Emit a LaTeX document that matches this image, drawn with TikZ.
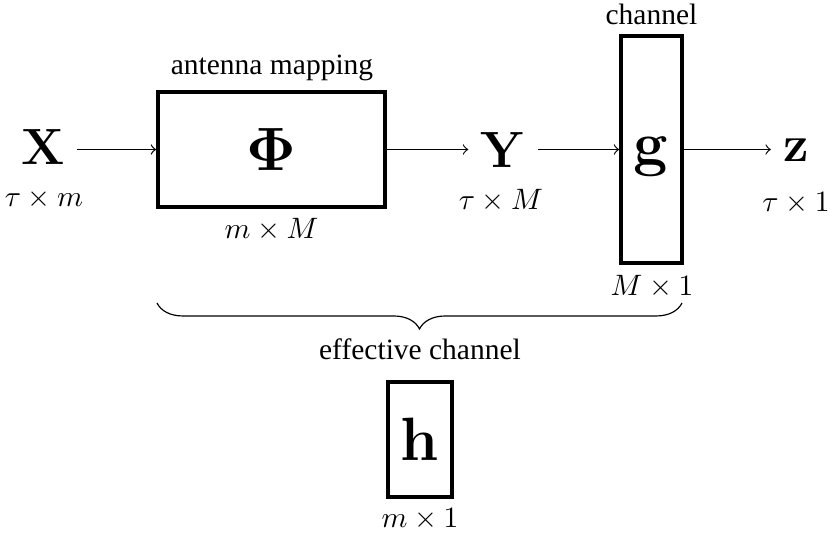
\documentclass[tikz,border=0pt]{standalone}
\usepackage[no-math]{fontspec}
\setmainfont{Liberation Serif}
\usetikzlibrary{decorations.pathreplacing}

\tikzset{
  sym/.style={inner sep=4pt, font=\LARGE},
  blk/.style={draw, line width=1.2pt, inner sep=0pt, font=\huge},
  dim/.style={anchor=base, inner sep=0pt},
  blkname/.style={anchor=base, inner sep=0pt},
  sig/.style={->, line width=0.4pt}
}

\begin{document}
\begin{tikzpicture}[x=0.339pt, y=0.339pt]
    \useasboundingbox (0,0) rectangle (830,535);

    % Khoi anh xa anten va kenh
    \node[blk, minimum width=77pt, minimum height=39pt] (map) at (271.5,385.5) {$\mathbf{\Phi}$};
    \node[blk, minimum width=20.7pt, minimum height=77pt] (chan) at (651.5,385.5) {};
    \node[anchor=base, inner sep=0pt, font=\huge] (g) at (651.5,370) {$\mathbf{g}$};
    \node[blk, minimum width=21.7pt, minimum height=39pt] (h) at (420,95.5) {$\mathbf{h}$};

    % Tin hieu
    \node[sym, anchor=base] (X) at (43,370) {$\mathbf{X}$};
    \node[sym, anchor=base] (Y) at (503,367) {$\mathbf{Y}$};
    \node[sym, anchor=base] (z) at (796,373) {$\mathbf{z}$};

    % Ten khoi
    \node[blkname] (mapname) at (272,460) {antenna mapping};
    \node[blkname] (channame) at (651.5,510) {channel};
    \node[blkname] (hname) at (420,176) {effective channel};

    % Kich thuoc
    \node[dim] (dX) at (44,328) {$\tau\times m$};
    \node[dim] (dY) at (501,325) {$\tau\times M$};
    \node[dim] (dz) at (796,323) {$\tau\times 1$};
    \node[dim] (dmap) at (271.5,297) {$m\times M$};
    \node[dim] (dchan) at (652,240) {$M\times 1$};
    \node[dim] (dh) at (420,8) {$m\times 1$};

    % Mui ten
    \draw[sig] (X.east |- map.west) -- (map.west);
    \draw[sig] (map.east) -- (Y.west |- map.east);
    \draw[sig] (Y.east |- chan.west) -- (chan.west);
    \draw[sig] (chan.east) -- (z.west |- chan.east);

    % Ngoac
    \coordinate (bl) at (157,232);
    \coordinate (br) at (682,232);
    \draw[decorate, decoration={brace, mirror, amplitude=8.8pt}, line width=0.4pt] (bl) -- (br);
\end{tikzpicture}
\end{document}
